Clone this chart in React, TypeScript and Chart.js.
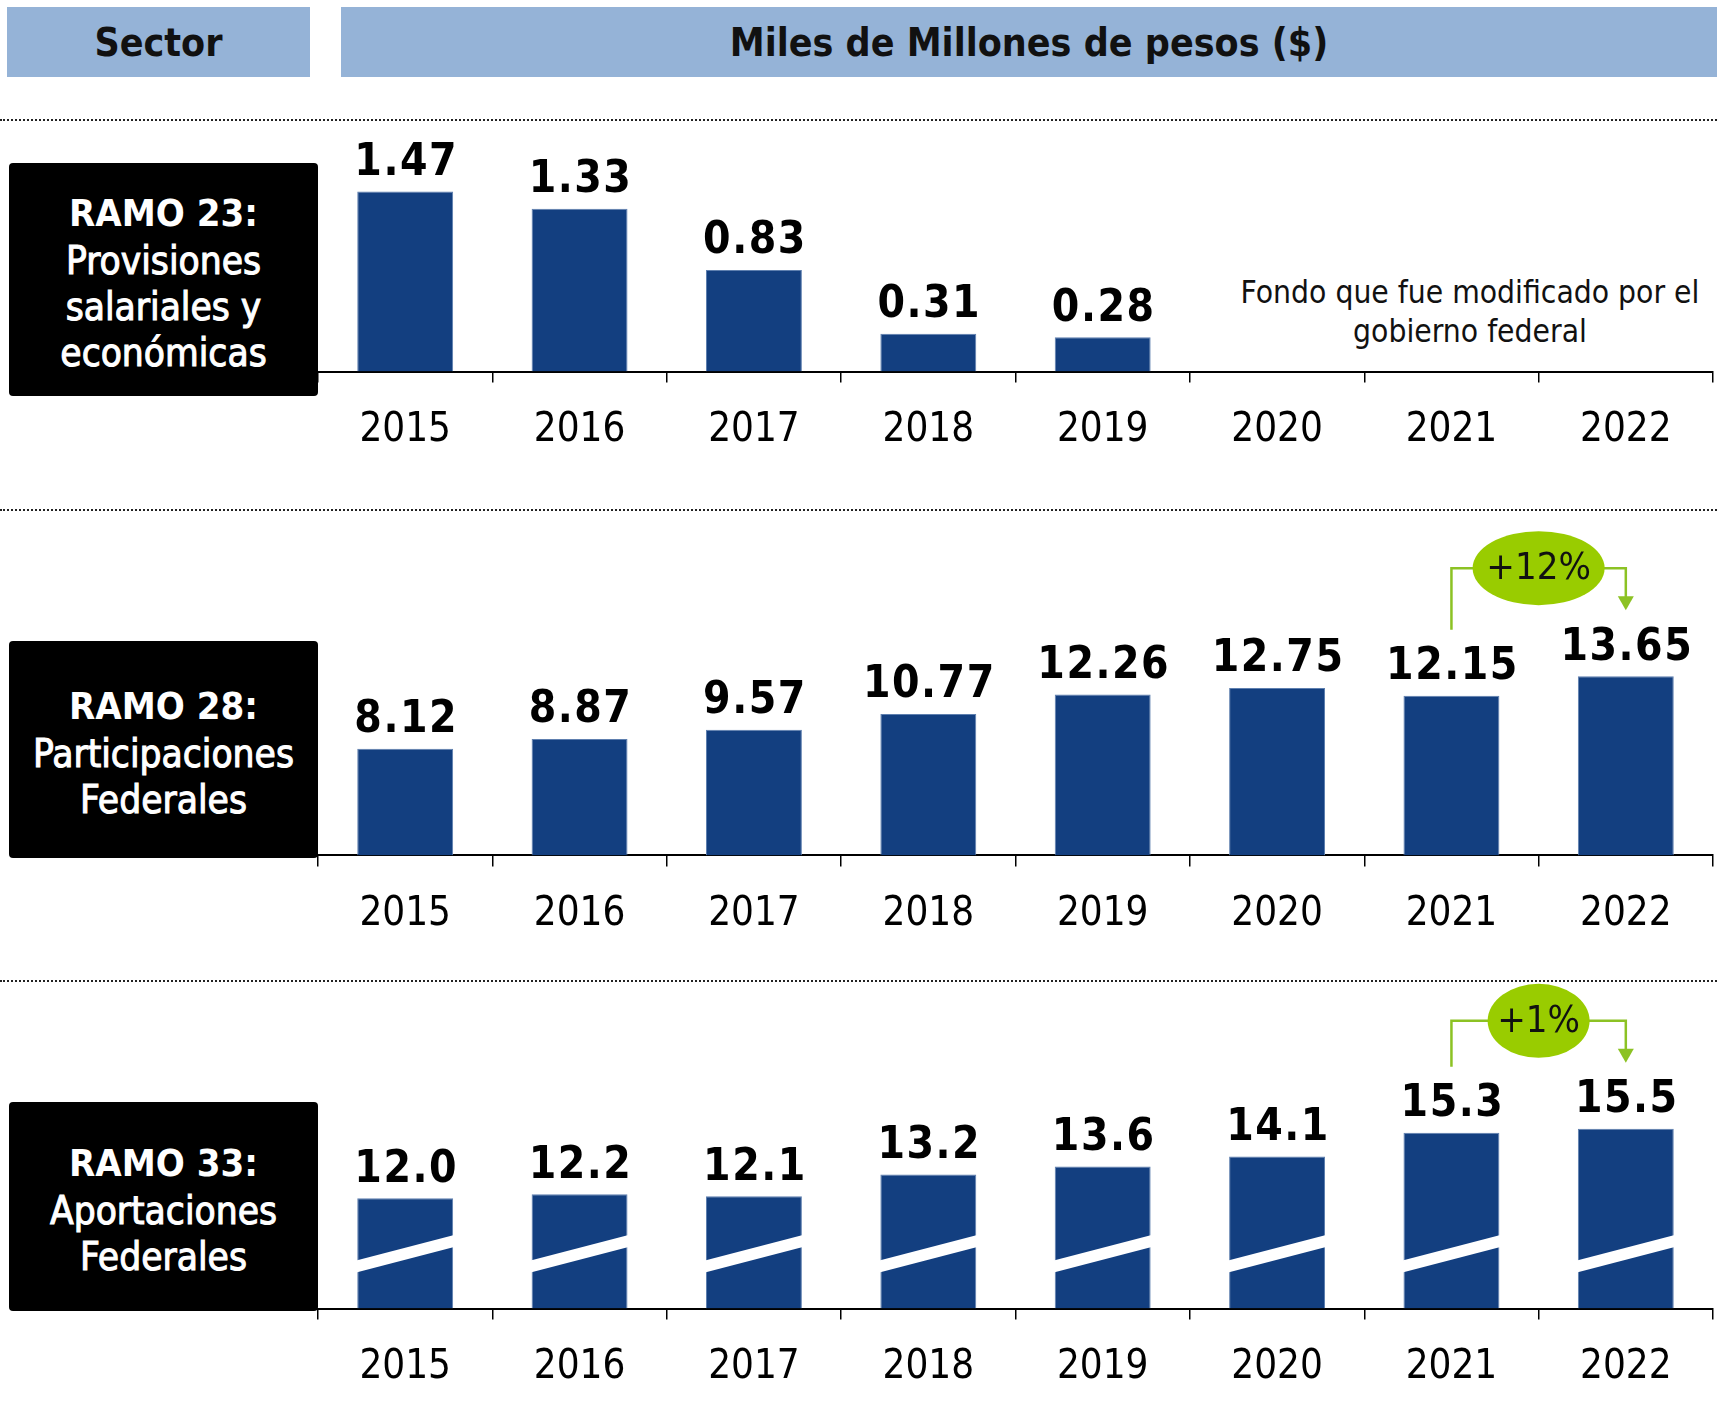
import React, { useEffect, useRef } from 'react';
import { Chart, registerables } from 'chart.js';

Chart.register(...registerables);

// ---------------- data ----------------
const YEARS = ['2015', '2016', '2017', '2018', '2019', '2020', '2021', '2022'];
const RAMO23: (number | null)[] = [1.47, 1.33, 0.83, 0.31, 0.28, null, null, null];
const RAMO28: (number | null)[] = [8.12, 8.87, 9.57, 10.77, 12.26, 12.75, 12.15, 13.65];
const RAMO33: (number | null)[] = [12.0, 12.2, 12.1, 13.2, 13.6, 14.1, 15.3, 15.5];

const HEADER_LEFT = 'Sector';
const HEADER_RIGHT = 'Miles de Millones de pesos ($)';
const LABEL23 = ['RAMO 23:', 'Provisiones', 'salariales y', 'económicas'];
const LABEL28 = ['RAMO 28:', 'Participaciones', 'Federales'];
const LABEL33 = ['RAMO 33:', 'Aportaciones', 'Federales'];
const NOTE23 = ['Fondo que fue modificado por el', 'gobierno federal'];

// ---------------- style ----------------
const COND = "'DejaVu Sans Condensed', 'Liberation Sans Narrow', 'DejaVu Sans', sans-serif";
const BAR = '#133F80';
const BAR_EDGE = '#5E7FAF';
const HEADER_BG = '#95B3D7';
const GREEN = '#99CC00';
const GREEN_LINE = '#8CC224';

type PanelCfg = {
  values: (number | null)[];
  top: number;
  height: number;
  baseline: number;
  min: number;
  max: number;
  ppu: number;
  decimals: number;
  compare?: [number, number];
  ellipseRx?: number;
  stripe?: boolean;
};

const P1: PanelCfg = { values: RAMO23, top: 125, height: 335, baseline: 371.6, min: 0, max: 1.6, ppu: 122.5, decimals: 2 };
const P2: PanelCfg = { values: RAMO28, top: 512, height: 423, baseline: 855.4, min: 0, max: 16, ppu: 13.13, decimals: 2, compare: [6, 7], ellipseRx: 66 };
const P3: PanelCfg = { values: RAMO33, top: 972, height: 456, baseline: 1308.5, min: 6.44, max: 17, ppu: 19.83, decimals: 1, compare: [6, 7], ellipseRx: 51, stripe: true };

function makePlugin(p: PanelCfg) {
  return {
    id: 'panelDecor',
    afterDatasetsDraw(chart: any) {
      const ctx: CanvasRenderingContext2D = chart.ctx;
      const meta = chart.getDatasetMeta(0);
      const bottom = chart.chartArea.bottom;
      ctx.save();
      meta.data.forEach((bar: any, i: number) => {
        const v = p.values[i];
        if (v == null) return;
        const { x, y, width } = bar.getProps(['x', 'y', 'width'], true);
        if (p.stripe) {
          const l = x - width / 2 - 1;
          const r = x + width / 2 + 1;
          ctx.fillStyle = '#ffffff';
          ctx.beginPath();
          ctx.moveTo(l, bottom - 36);
          ctx.lineTo(r, bottom - 61.5);
          ctx.lineTo(r, bottom - 73.5);
          ctx.lineTo(l, bottom - 48);
          ctx.closePath();
          ctx.fill();
        }
        ctx.fillStyle = '#000';
        ctx.font = `bold 44px ${COND}`;
        (ctx as any).letterSpacing = '1.5px';
        ctx.textAlign = 'center';
        ctx.textBaseline = 'alphabetic';
        ctx.fillText(v.toFixed(p.decimals), x + 1, y - 16.5);
      });
      (ctx as any).letterSpacing = '0px';
      if (p.compare) {
        const [a, b] = p.compare;
        const ea = meta.data[a];
        const eb = meta.data[b];
        const va = p.values[a] as number;
        const vb = p.values[b] as number;
        const hy = Math.min(ea.y, eb.y) - 108;
        const ya = ea.y - 66;
        const yb = eb.y - 66;
        const cx = (ea.x + eb.x) / 2;
        ctx.strokeStyle = GREEN_LINE;
        ctx.fillStyle = GREEN_LINE;
        ctx.lineWidth = 2.5;
        ctx.beginPath();
        ctx.moveTo(ea.x, ya);
        ctx.lineTo(ea.x, hy);
        ctx.lineTo(eb.x, hy);
        ctx.lineTo(eb.x, yb - 13);
        ctx.stroke();
        ctx.beginPath();
        ctx.moveTo(eb.x - 8, yb - 14);
        ctx.lineTo(eb.x + 8, yb - 14);
        ctx.lineTo(eb.x, yb);
        ctx.closePath();
        ctx.fill();
        ctx.fillStyle = GREEN;
        ctx.beginPath();
        ctx.ellipse(cx, hy, p.ellipseRx || 60, 37, 0, 0, Math.PI * 2);
        ctx.fill();
        const pct = Math.round(((vb - va) / va) * 100);
        ctx.fillStyle = '#111';
        ctx.font = `38px ${COND}`;
        ctx.textAlign = 'center';
        ctx.textBaseline = 'middle';
        ctx.fillText(`${pct >= 0 ? '+' : ''}${pct}%`, cx, hy + 1);
      }
      ctx.restore();
    },
  };
}

function makeChart(canvas: HTMLCanvasElement, p: PanelCfg) {
  const baseC = p.baseline - p.top;
  const areaTop = baseC - p.ppu * (p.max - p.min);
  const xAxisH = p.height - baseC;
  return new Chart(canvas, {
    type: 'bar',
    data: {
      labels: YEARS,
      datasets: [
        {
          data: p.values as any,
          backgroundColor: BAR,
          borderColor: BAR_EDGE,
          borderWidth: 1,
          barPercentage: 0.55,
          categoryPercentage: 1,
          base: p.min,
        } as any,
      ],
    },
    options: {
      responsive: false,
      animation: false,
      devicePixelRatio: 1,
      layout: { padding: { left: 318, right: 11, top: areaTop, bottom: 0 } },
      plugins: {
        legend: { display: false },
        tooltip: { enabled: false },
        title: { display: false },
      },
      scales: {
        x: {
          afterFit: (s: any) => {
            s.height = xAxisH;
          },
          grid: {
            display: true,
            drawOnChartArea: false,
            drawTicks: true,
            tickLength: 11,
            color: '#000',
            lineWidth: 1.5,
            offset: true,
          },
          border: { display: true, color: '#000', width: 2 },
          ticks: {
            color: '#000',
            font: { family: COND, size: 40 },
            padding: 24,
            maxRotation: 0,
            autoSkip: false,
          },
        },
        y: { display: false, min: p.min, max: p.max },
      },
    },
    plugins: [makePlugin(p) as any],
  });
}

function BarPanel({ cfg }: { cfg: PanelCfg }) {
  const ref = useRef<HTMLCanvasElement>(null);
  useEffect(() => {
    const chart = makeChart(ref.current as HTMLCanvasElement, cfg);
    return () => chart.destroy();
  }, [cfg]);
  return (
    <canvas
      ref={ref}
      width={1724}
      height={cfg.height}
      style={{ position: 'absolute', left: 0, top: cfg.top, width: 1724, height: cfg.height }}
    />
  );
}

function SectorBox({ lines, top, height }: { lines: string[]; top: number; height: number }) {
  return (
    <div
      style={{
        position: 'absolute',
        left: 9,
        top,
        width: 309,
        height,
        boxSizing: 'border-box',
        paddingTop: 6,
        background: '#000',
        borderRadius: 4,
        color: '#fff',
        display: 'flex',
        flexDirection: 'column',
        justifyContent: 'center',
        alignItems: 'center',
        fontFamily: COND,
        fontSize: 38.5,
        lineHeight: '46px',
        WebkitTextStroke: '1px #fff',
        textAlign: 'center',
      }}
    >
      {lines.map((l, i) => (
        <div
          key={l}
          style={i === 0 ? { fontWeight: 'bold', fontSize: 38, WebkitTextStroke: '0px', marginBottom: 2 } : undefined}
        >
          {l}
        </div>
      ))}
    </div>
  );
}

function Dotted({ top }: { top: number }) {
  return (
    <div style={{ position: 'absolute', left: 0, top, width: 1717, height: 0, borderTop: '2px dotted #222' }} />
  );
}

export default function App() {
  const headerStyle: React.CSSProperties = {
    position: 'absolute',
    top: 7,
    height: 70,
    background: HEADER_BG,
    display: 'flex',
    alignItems: 'center',
    justifyContent: 'center',
    fontFamily: COND,
    fontWeight: 'bold',
    fontSize: 39,
    color: '#111',
  };
  return (
    <div style={{ position: 'absolute', left: 0, top: 0, width: 1724, height: 1428, background: '#fff', overflow: 'hidden' }}>
      <div style={{ ...headerStyle, left: 7, width: 303 }}>{HEADER_LEFT}</div>
      <div style={{ ...headerStyle, left: 341, width: 1376 }}>{HEADER_RIGHT}</div>
      <Dotted top={119} />
      <Dotted top={509} />
      <Dotted top={980} />
      <div
        style={{
          position: 'absolute',
          left: 1220,
          top: 273,
          width: 500,
          textAlign: 'center',
          fontFamily: COND,
          fontSize: 31.5,
          lineHeight: '38.5px',
          color: '#111',
        }}
      >
        {NOTE23.map((l) => (
          <div key={l}>{l}</div>
        ))}
      </div>
      <BarPanel cfg={P1} />
      <BarPanel cfg={P2} />
      <BarPanel cfg={P3} />
      <SectorBox lines={LABEL23} top={163} height={233} />
      <SectorBox lines={LABEL28} top={641} height={217} />
      <SectorBox lines={LABEL33} top={1102} height={209} />
    </div>
  );
}
